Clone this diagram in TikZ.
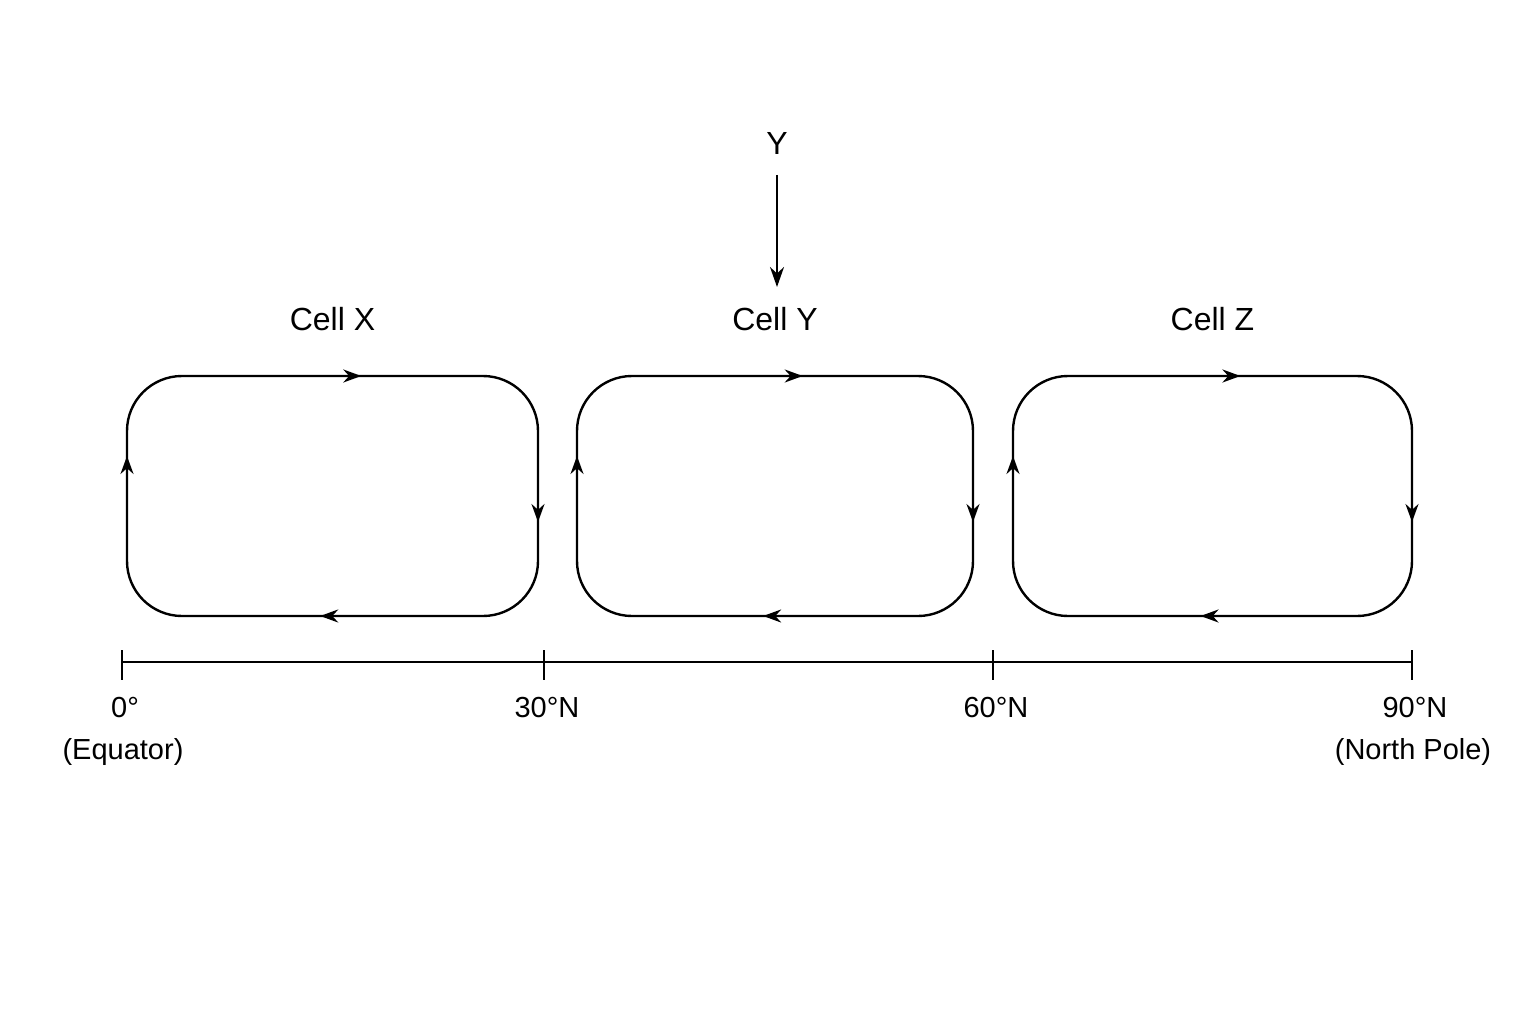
\documentclass[tikz,border=0pt]{standalone}
\usepackage{fontspec}
\setmainfont{Liberation Sans}
\usetikzlibrary{arrows.meta}
\begin{document}
\begin{tikzpicture}[x=1pt,y=-1pt,
  line/.style={line width=2.4pt,black},
  tip/.style={line width=2.4pt,-{Stealth[length=18pt,width=13pt]}},
  lab/.style={font=\fontsize{29}{34}\selectfont},
  cl/.style={font=\fontsize{32}{38}\selectfont}]
\useasboundingbox (0,0) rectangle (1536,1024);
\foreach \a/\b/\n in {127/538/X,577/973/Y,1013/1412/Z}{
  \draw[line,rounded corners=55pt] (\a,376) rectangle (\b,616);
  \pgfmathsetmacro\ta{\a+0.57*(\b-\a)}
  \pgfmathsetmacro\ba{\a+0.47*(\b-\a)}
  \draw[tip] (\ta-20,376) -- (\ta,376);
  \draw[tip] (\ba+20,616) -- (\ba,616);
  \draw[tip] (\b,500) -- (\b,522);
  \draw[tip] (\a,478) -- (\a,456);
  \node[cl] (c\n) at ({(\a+\b)/2},319) {Cell \n};
}
\draw[line] (122,662) -- (1412,662);
\foreach \x/\t in {122/0°,544/30°N,993/60°N,1412/90°N}{
  \draw[line] (\x,650) -- (\x,680);
  \node[lab] at (\x+3,708) {\t};
}
\node[lab] (eq) at (123,752) {(Equator)};
\node[lab] (np) at (1413,752) {(North Pole)};
\node[cl] (y) at (777,143) {Y};
\coordinate (ye) at (777,287);
\draw[line,-{Stealth[length=20pt,width=14pt]}] (777,175) -- (ye);
\end{tikzpicture}
\end{document}
